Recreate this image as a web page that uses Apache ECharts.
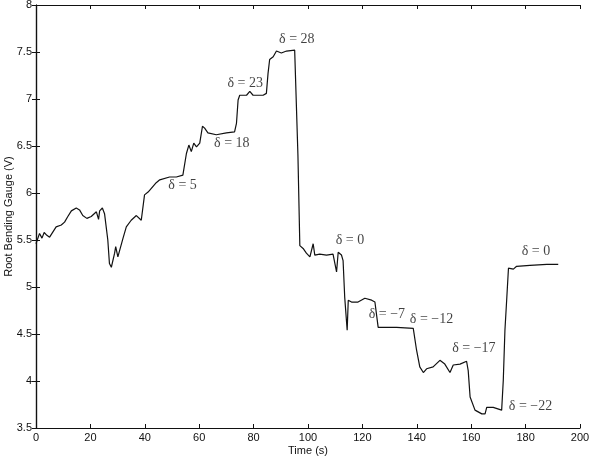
<!DOCTYPE html>
<html>
<head>
<meta charset="utf-8">
<script src="https://cdn.jsdelivr.net/npm/echarts@6/dist/echarts.min.js"></script>
<style>
  html, body { margin: 0; padding: 0; background: #fff; }
  #chart { width: 589px; height: 471px; }
</style>
</head>
<body>
<div id="chart"></div>
<script>
// time (s) and gauge reading (V)
const timeData = [
  0, 1.3, 2.2, 3, 4, 5, 7.4, 9.3, 10.5, 11.7, 13, 14.8, 16, 17.2, 18.7, 20.3, 22.2, 23, 23.4, 24.4,
  25.2, 26.4, 27, 27.7, 28.9, 29.3, 30.1, 30.7, 32, 33.2, 35, 36.9, 38.7, 39.9, 41.2, 42.4, 44.2, 45.5,
  49.1, 51.6, 54, 54.7, 55.3, 56.2, 57.1, 58, 59, 60.2, 61.2, 62, 63.2, 66.3, 70, 73, 73.7, 74.3, 74.9,
  77.4, 78.6, 79.8, 83.5, 84.7, 85.3, 85.9, 87.2, 88.4, 90.2, 92.1, 95.1, 95.8, 96.3, 97, 98.2, 99.4,
  100.7, 101.9, 102.5, 104.3, 106.8, 109.2, 110.5, 111.1, 112.3, 112.9, 113.5, 114.4, 114.8, 116, 118.4,
  120.9, 123.4, 124.6, 125.8, 126.4, 132.6, 138.7, 139.3, 139.9, 141.1, 142.4, 143.6, 146, 148.5, 150.3,
  152.2, 153.4, 155.9, 158.3, 158.9, 159.6, 161.4, 163.9, 165.1, 165.7, 168.1, 171.2, 171.8, 172.4,
  173.1, 173.7, 174.3, 175.5, 176.7, 181.6, 187.8, 192
];
const voltData = [
  5.46, 5.57, 5.52, 5.58, 5.55, 5.53, 5.64, 5.66, 5.69, 5.75, 5.81, 5.84, 5.82, 5.76, 5.73, 5.75, 5.80, 5.72, 5.81, 5.84,
  5.78, 5.50, 5.25, 5.21, 5.36, 5.43, 5.32, 5.32, 5.52, 5.64, 5.71, 5.76, 5.71, 5.98, 6.01, 6.05, 6.11, 6.14,
  6.17, 6.17, 6.19, 6.21, 6.42, 6.51, 6.44, 6.53, 6.49, 6.53, 6.71, 6.69, 6.64, 6.62, 6.64, 6.65, 6.74, 6.99, 7.04,
  7.04, 7.08, 7.04, 7.04, 7.06, 7.27, 7.42, 7.45, 7.51, 7.49, 7.51, 7.52, 7.50, 6.40, 5.44, 5.41, 5.36,
  5.32, 5.46, 5.34, 5.35, 5.34, 5.35, 5.16, 5.37, 5.34, 5.28, 4.89, 4.54, 4.86, 4.84, 4.84,
  4.88, 4.86, 4.84, 4.57, 4.56, 4.57, 4.56, 4.56, 4.33, 4.15, 4.09, 4.13, 4.15, 4.22, 4.18,
  4.09, 4.17, 4.18, 4.21, 4.11, 3.83, 3.69, 3.65, 3.65, 3.72, 3.72, 3.69, 4.01, 4.54,
  4.89, 5.20, 5.21, 5.19, 5.22, 5.23, 5.24, 5.24
];

// deflection labels: [time, volts, text]
const labelTime = [95.9, 76.9, 72, 53.9, 115.4, 129, 145.4, 161, 181.8, 183.8];
const labelVolt = [7.64, 7.17, 6.53, 6.08, 5.50, 4.71, 4.66, 4.35, 3.73, 5.38];
const labelText = ['δ = 28', 'δ = 23', 'δ = 18', 'δ = 5', 'δ = 0', 'δ = −7', 'δ = −12', 'δ = −17', 'δ = −22', 'δ = 0'];

const chart = echarts.init(document.getElementById('chart'));

const axisFont = { color: '#111', fontFamily: 'Liberation Sans', fontSize: 11 };
const boxLine = { show: true, lineStyle: { color: '#111', width: 1.2 } };
const tickIn = { show: true, inside: true, length: 4, lineStyle: { color: '#111' } };

chart.setOption({
  animation: false,
  backgroundColor: '#fff',
  grid: { left: 36, right: 9, top: 5, bottom: 43, containLabel: false, outerBoundsMode: 'none' },
  xAxis: [
    {
      type: 'value', min: 0, max: 200, interval: 20,
      name: 'Time (s)', nameLocation: 'middle', nameGap: 17, nameMoveOverlap: false,
      nameTextStyle: axisFont,
      axisLine: boxLine, axisTick: tickIn, splitLine: { show: false },
      axisLabel: Object.assign({ margin: 4 }, axisFont)
    },
    {
      type: 'value', position: 'top', min: 0, max: 200, interval: 20,
      axisLine: boxLine, axisTick: tickIn, axisLabel: { show: false }, splitLine: { show: false }
    }
  ],
  yAxis: [
    {
      type: 'value', min: 3.5, max: 8, interval: 0.5,
      name: 'Root Bending Gauge (V)', nameLocation: 'middle', nameGap: 22, nameMoveOverlap: false,
      nameTextStyle: axisFont,
      axisLine: boxLine, axisTick: tickIn, splitLine: { show: false },
      axisLabel: Object.assign({ margin: 4 }, axisFont)
    },
    {
      type: 'value', position: 'right', min: 3.5, max: 8, interval: 0.5,
      axisLine: boxLine, axisTick: tickIn, axisLabel: { show: false }, splitLine: { show: false }
    }
  ],
  series: [
    {
      type: 'line',
      data: timeData.map((t, i) => [t, voltData[i]]),
      showSymbol: false,
      lineStyle: { color: '#111', width: 1.2 }
    },
    {
      type: 'scatter',
      symbolSize: 0,
      data: labelTime.map((t, i) => [t, labelVolt[i], labelText[i]]),
      label: {
        show: true, position: 'inside',
        formatter: p => p.data[2],
        color: '#111', fontFamily: 'Liberation Serif', fontSize: 14
      }
    }
  ]
});
</script>
</body>
</html>
